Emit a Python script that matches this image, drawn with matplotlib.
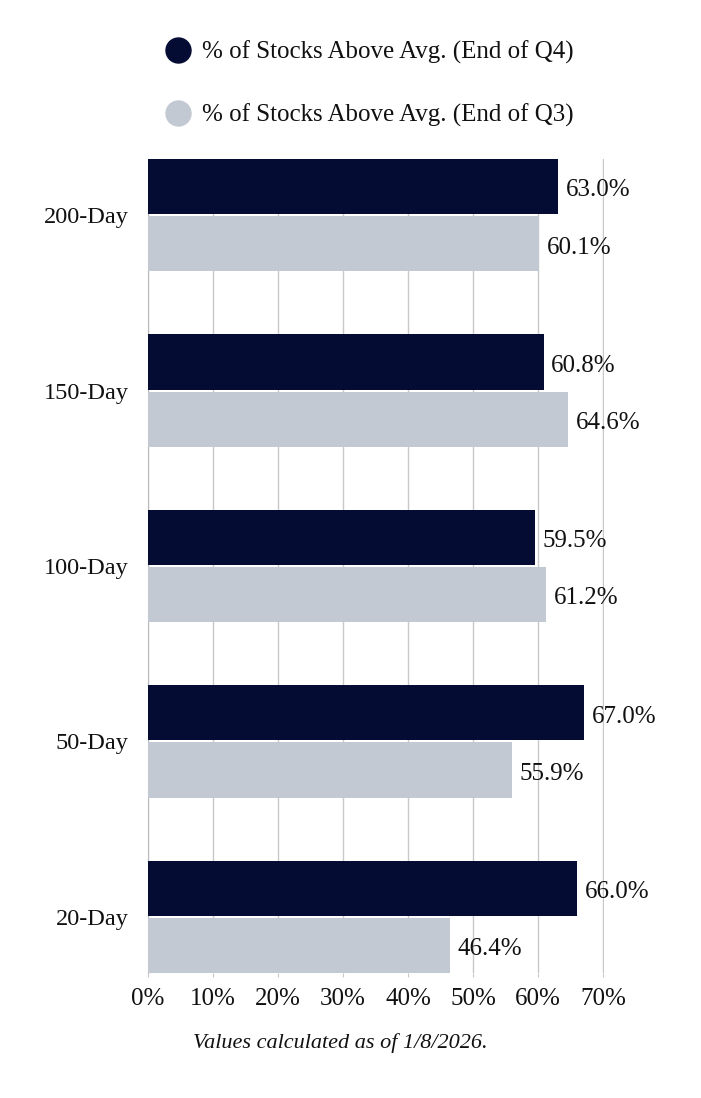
import numpy as np
import matplotlib
matplotlib.use("Agg")
import matplotlib.pyplot as plt
from matplotlib.lines import Line2D

plt.rcParams['font.family'] = ['Liberation Serif', 'DejaVu Serif']

periods = ['200-Day', '150-Day', '100-Day', '50-Day', '20-Day']
q4_values = [63.0, 60.8, 59.5, 67.0, 66.0]
q3_values = [60.1, 64.6, 61.2, 55.9, 46.4]
series_names = ['% of Stocks Above Avg. (End of Q4)', '% of Stocks Above Avg. (End of Q3)']
x_ticks = [0, 10, 20, 30, 40, 50, 60, 70]
footnote = 'Values calculated as of 1/8/2026.'

dark = '#050c33'
light = '#c3c9d3'
txt = '#111111'

fig = plt.figure(figsize=(7.01, 10.98), dpi=100)
ax = fig.add_axes([148/701, 1-973/1098, 456/701, 814/1098])

pos = np.arange(len(periods))
h = 0.314
off = 0.163
ax.barh(pos - off, q4_values, height=h, color=dark, zorder=3)
ax.barh(pos + off, q3_values, height=h, color=light, zorder=3)

# value labels, nudged a little down to sit like the original
for p, v in zip(pos, q4_values):
    ax.text(v + 1.2, p - off + 0.022, f'{v:.1f}%', va='center', ha='left', fontsize=18, color=txt)
for p, v in zip(pos, q3_values):
    ax.text(v + 1.2, p + off + 0.022, f'{v:.1f}%', va='center', ha='left', fontsize=18, color=txt)

ax.set_xlim(0, 70.1)
ax.set_ylim(len(periods) - 1 + 0.32, -0.32)
ax.set_yticks(pos)
ax.set_yticklabels(periods, fontsize=17.5, color=txt)
ax.set_xticks(x_ticks)
ax.set_xticklabels([f'{t}%' for t in x_ticks], fontsize=18, color=txt)
ax.tick_params(axis='y', length=0, pad=14)
ax.tick_params(axis='x', length=3, color='#c8c8c8', pad=8)
ax.grid(axis='x', color='#c8c8c8', linewidth=1, zorder=0)
for s in ['top', 'right', 'bottom']:
    ax.spines[s].set_visible(False)
ax.spines['left'].set_color('#bbbbbb')

# legend drawn by hand
for yy, col, name in [(50, dark, series_names[0]), (113, light, series_names[1])]:
    fig.add_artist(Line2D([178/701], [1 - yy/1098], marker='o', markersize=18,
                          color=col, transform=fig.transFigure))
    fig.text(202/701, 1 - (yy + 2)/1098, name, fontsize=18, color=txt, va='center', ha='left')

fig.text(340/701, 1 - 1043/1098, footnote, fontsize=16, style='italic',
         color=txt, ha='center', va='center')

fig.savefig('out.png', dpi=100)
